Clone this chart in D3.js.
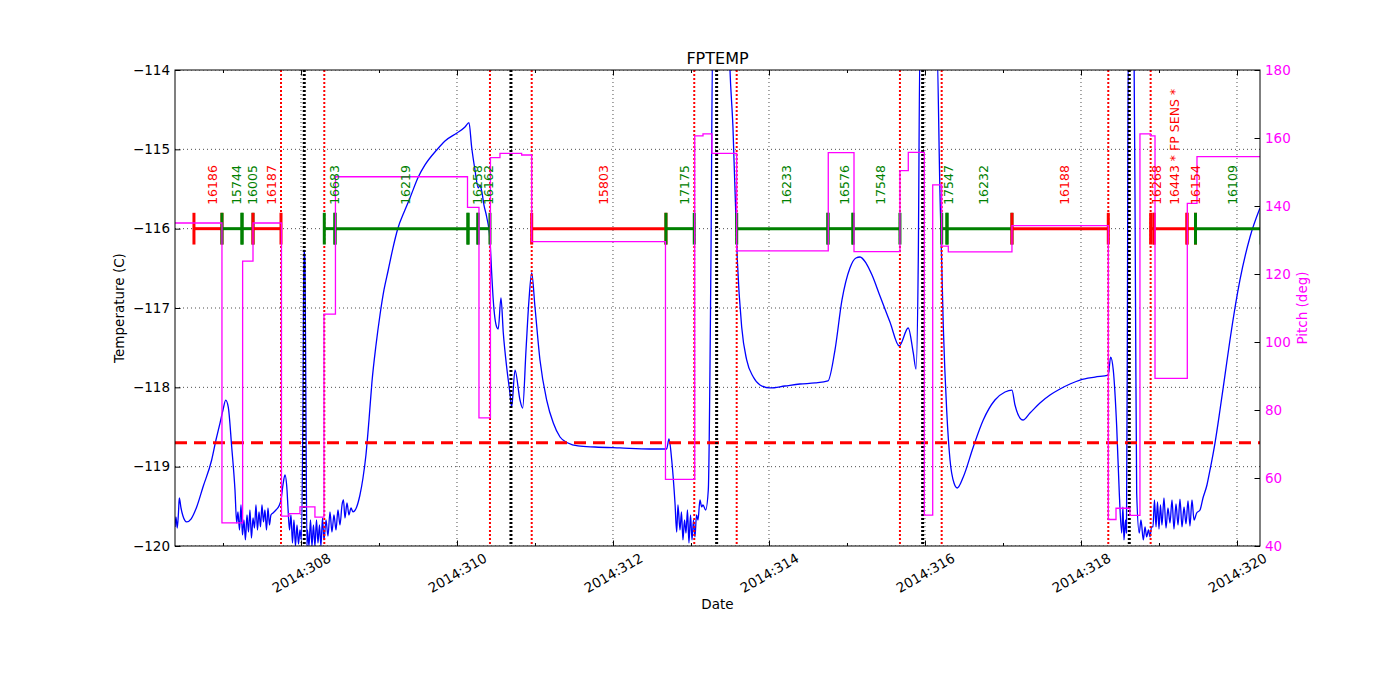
<!DOCTYPE html>
<html><head><meta charset="utf-8">
<script src="https://cdn.jsdelivr.net/npm/d3@7"></script>
<style>
body{margin:0;background:#fff;}
svg{display:block;}
text{font-family:"DejaVu Sans",sans-serif;}
</style>
</head><body>
<svg id="c" width="1400" height="700"></svg>
<script>
// ---------------- data ----------------
const chartTitle = "FPTEMP";
const xDomain = [306.385, 320.295];          // day of year 2014
const tempDomain = [-120, -114];
const pitchDomain = [40, 180];
const tempTicks = [-120, -119, -118, -117, -116, -115, -114];
const pitchTicks = [40, 60, 80, 100, 120, 140, 160, 180];
const majorDays = [308, 310, 312, 314, 316, 318, 320];
const minorDays = [307, 309, 311, 313, 315, 317, 319];
const planningLimit = -118.7;

// FP temperature [day, degC]
const fpTemp = [
[306.385,-119.760],[306.397,-119.634],[306.414,-119.773],[306.430,-119.571],[306.440,-119.395],[306.462,-119.521],[306.487,-119.622],[306.535,-119.697],[306.590,-119.660],[306.663,-119.508],[306.744,-119.256],[306.855,-118.916],[306.910,-118.664],[306.962,-118.450],[307.000,-118.286],[307.035,-118.160],[307.068,-118.248],[307.112,-118.752],[307.154,-119.294],[307.176,-119.710],
[307.192,-119.571],[307.212,-119.798],[307.231,-119.483],[307.250,-119.861],[307.269,-119.672],[307.288,-119.924],[307.308,-119.609],[307.327,-119.824],[307.346,-119.546],[307.365,-119.899],[307.385,-119.647],[307.404,-119.773],[307.423,-119.483],[307.442,-119.798],[307.462,-119.571],[307.481,-119.760],[307.500,-119.483],[307.519,-119.697],[307.538,-119.546],[307.558,-119.798],[307.577,-119.521],[307.596,-119.735],[307.615,-119.609],[307.641,-119.584],[307.679,-119.546],[307.718,-119.496],[307.744,-119.420],[307.769,-119.231],[307.795,-119.105],[307.821,-119.294],[307.833,-119.508],[307.853,-119.798],[307.872,-119.609],[307.891,-119.962],[307.910,-119.672],[307.929,-120.000],[307.949,-119.735],[307.968,-119.975],[307.987,-119.798],[308.006,-119.924],[308.026,-118.160],[308.038,-116.269],[308.051,-116.395],[308.064,-118.412],[308.077,-120.000],
[308.083,-119.798],[308.103,-120.000],[308.122,-119.672],[308.141,-120.000],[308.160,-119.735],[308.179,-120.000],[308.199,-119.672],[308.218,-119.962],[308.237,-119.735],[308.256,-120.000],[308.276,-119.647],[308.295,-119.924],[308.321,-119.672],[308.346,-119.874],[308.372,-119.571],[308.397,-119.824],[308.423,-119.609],[308.449,-119.798],[308.474,-119.546],[308.500,-119.735],[308.526,-119.483],[308.545,-119.420],[308.564,-119.647],[308.590,-119.458],[308.615,-119.609],[308.641,-119.521],[308.667,-119.571],[308.714,-119.508],[308.756,-119.357],[308.795,-119.143],[308.833,-118.853],[308.872,-118.412],[308.910,-117.933],[308.962,-117.466],[309.013,-117.088],[309.064,-116.773],[309.119,-116.521],[309.179,-116.244],[309.240,-116.004],[309.333,-115.765],[309.397,-115.613],[309.504,-115.349],[309.590,-115.197],[309.740,-115.008],[309.846,-114.895],[310.000,-114.794],[310.103,-114.718],[310.154,-114.664],
[310.188,-114.971],[310.231,-115.261],[310.273,-115.487],[310.295,-115.449],[310.317,-115.525],[310.346,-115.702],[310.381,-115.853],[310.423,-116.143],[310.445,-116.559],[310.465,-116.899],[310.509,-117.239],[310.529,-117.265],[310.564,-116.874],[310.594,-117.315],[310.637,-117.744],[310.679,-118.071],[310.701,-118.248],[310.744,-117.782],[310.808,-118.160],[310.842,-118.261],[310.885,-117.530],[310.923,-116.899],[310.958,-116.559],[311.000,-116.988],[311.064,-117.656],[311.150,-118.160],[311.235,-118.450],[311.321,-118.626],[311.423,-118.702],[311.551,-118.739],[311.769,-118.752],[312.090,-118.764],[312.474,-118.777],[312.688,-118.777],
[312.718,-118.651],[312.753,-118.916],[312.795,-119.458],[312.817,-119.824],[312.833,-119.483],[312.859,-119.798],[312.878,-119.571],[312.897,-119.924],[312.917,-119.672],[312.936,-119.836],[312.955,-119.546],[312.974,-119.962],[312.994,-119.609],[313.013,-119.924],[313.032,-119.672],[313.051,-119.886],[313.071,-119.609],[313.090,-119.672],[313.115,-119.420],[313.137,-119.508],[313.154,-119.483],[313.188,-119.546],[313.222,-119.294],[313.256,-116.395],[313.278,-113.622],
[313.487,-113.622],[313.500,-114.000],[313.538,-114.718],[313.594,-116.395],[313.650,-117.239],[313.714,-117.655],[313.799,-117.870],[313.885,-117.970],[314.013,-118.008],[314.205,-117.983],[314.397,-117.958],[314.590,-117.945],[314.756,-117.920],[314.846,-117.530],[314.936,-116.899],[315.038,-116.496],[315.115,-116.370],[315.167,-116.357],[315.244,-116.433],[315.321,-116.584],[315.423,-116.849],[315.551,-117.176],[315.670,-117.479],[315.785,-117.252],[315.850,-117.567],[315.885,-117.769],[315.914,-116.395],[315.936,-113.622],
[316.150,-113.622],[316.192,-115.550],[316.235,-117.239],[316.278,-118.286],[316.321,-118.916],[316.372,-119.206],[316.414,-119.269],[316.491,-119.130],[316.619,-118.752],[316.747,-118.412],[316.897,-118.160],[317.026,-118.059],[317.115,-118.034],[317.154,-118.223],[317.218,-118.387],[317.256,-118.412],[317.346,-118.324],[317.474,-118.197],[317.603,-118.097],[317.731,-118.021],[317.859,-117.958],[317.987,-117.908],[318.179,-117.870],[318.350,-117.845],[318.380,-117.618],[318.414,-117.782],[318.458,-118.500],[318.491,-119.332],[318.522,-119.836],[318.538,-119.508],[318.551,-119.924],[318.571,-119.672],[318.583,-119.836],[318.596,-116.899],[318.606,-113.622],
[318.679,-113.622],[318.699,-116.899],[318.714,-119.332],[318.747,-119.836],[318.769,-119.672],[318.799,-119.924],[318.821,-119.760],[318.842,-119.886],[318.865,-119.798],[318.885,-119.886],[318.904,-119.760],[318.923,-119.760],[318.942,-119.420],[318.962,-119.760],[318.981,-119.445],[319.000,-119.786],[319.019,-119.483],[319.038,-119.735],[319.064,-119.395],[319.090,-119.773],[319.115,-119.521],[319.141,-119.710],[319.167,-119.420],[319.192,-119.786],[319.218,-119.470],[319.244,-119.735],[319.269,-119.408],[319.295,-119.760],[319.321,-119.508],[319.346,-119.722],[319.372,-119.433],[319.397,-119.748],[319.423,-119.420],[319.449,-119.672],[319.483,-119.584],[319.526,-119.546],[319.564,-119.395],[319.615,-119.231],[319.654,-119.042],[319.718,-118.702],[319.782,-118.286],[319.846,-117.845],[319.910,-117.403],[320.038,-116.647],[320.167,-116.105],[320.295,-115.740]
];

// Pitch steps [day, deg]
const pitch = [
[306.385,135.0],[306.987,46.8],[307.252,123.8],[307.385,135.0],[307.750,48.8],[307.846,49.5],[307.987,51.5],[308.179,48.5],[308.295,108.2],[308.442,148.6],[310.135,139.6],[310.282,77.7],[310.429,154.2],[310.551,155.5],[310.829,155.0],[310.958,129.5],[312.673,59.6],[313.048,160.6],[313.154,161.2],[313.269,155.5],[313.586,126.8],[314.760,155.7],[315.090,126.6],[315.679,150.4],[315.786,155.8],[315.991,49.1],[316.099,146.2],[316.214,128.2],[316.299,126.5],[317.115,134.2],[318.350,47.8],[318.449,51.1],[318.628,49.0],[318.756,161.2],[318.893,160.6],[318.949,89.3],[319.363,140.8],[319.487,154.5],[320.295,154.5]
];

// Observations
const obsStart = [306.628,306.987,307.244,307.385,308.299,308.436,310.141,310.269,310.958,312.679,313.586,314.756,315.077,316.214,316.282,317.115,318.893,318.936,319.359,319.468];
const obsEnd   = [306.987,307.244,307.385,307.744,308.436,310.141,310.269,310.423,312.679,313.042,314.756,315.077,315.679,316.282,317.115,318.350,318.936,319.359,319.468,320.310];
const obsLabel = ["16186","15744","16005","16187","16683","16219","16258","16162","15803","17175","16233","16576","17548","17547","16232","16188","16268","16443 * FP SENS *","16154","16109"];
const obsFlag  = ["hot","ok","ok","hot","ok","ok","ok","ok","hot","ok","ok","ok","ok","ok","ok","hot","hot","hot","hot","ok"];
const obsLevel = -116.0;

// Event times
const radzoneTimes = [307.744,308.299,310.423,310.958,313.042,313.586,315.679,316.214,318.350,318.893];
const perigeeTimes = [308.042,310.692,313.329,315.970,318.619];

// ---------------- drawing ----------------
const svg = d3.select('#c');
const L = 175, R = 1260, T = 70, B = 546;
const x = d3.scaleLinear().domain(xDomain).range([L, R]);
const yT = d3.scaleLinear().domain(tempDomain).range([B, T]);
const yP = d3.scaleLinear().domain(pitchDomain).range([B, T]);
const flagColor = d3.scaleOrdinal().domain(["hot","ok"]).range(["#ff0000","#008000"]);
const MAG = "#ff00ff";

svg.append('rect').attr('width',1400).attr('height',700).attr('fill','#fff');
svg.append('defs').append('clipPath').attr('id','clip')
  .append('rect').attr('x',L).attr('y',T).attr('width',R-L).attr('height',B-T);

const plot = svg.append('g').attr('clip-path','url(#clip)');

// grid
plot.selectAll('.vg').data(majorDays).join('line')
  .attr('x1',d=>x(d)).attr('x2',d=>x(d)).attr('y1',T).attr('y2',B)
  .attr('stroke','#000').attr('stroke-width',0.7).attr('stroke-dasharray','1,3');
plot.selectAll('.hg').data(tempTicks).join('line')
  .attr('x1',L).attr('x2',R).attr('y1',d=>yT(d)).attr('y2',d=>yT(d))
  .attr('stroke','#000').attr('stroke-width',0.7).attr('stroke-dasharray','1,3');

// temperature
plot.append('path').datum(fpTemp)
  .attr('d', d3.line().curve(d3.curveMonotoneX).x(d=>x(d[0])).y(d=>yT(d[1])))
  .attr('fill','none').attr('stroke','#0000ff').attr('stroke-width',1.3).attr('stroke-linejoin','round');

// planning limit
plot.append('line').attr('x1',L).attr('x2',R).attr('y1',yT(planningLimit)).attr('y2',yT(planningLimit))
  .attr('stroke','#ff0000').attr('stroke-width',3).attr('stroke-dasharray','12,7');

// event lines
plot.selectAll('.rz').data(radzoneTimes).join('line')
  .attr('x1',d=>x(d)).attr('x2',d=>x(d)).attr('y1',T).attr('y2',B)
  .attr('stroke','#ff0000').attr('stroke-width',2).attr('stroke-dasharray','2,2');
plot.selectAll('.pg').data(perigeeTimes).join('line')
  .attr('x1',d=>x(d)).attr('x2',d=>x(d)).attr('y1',T).attr('y2',B)
  .attr('stroke','#000').attr('stroke-width',3).attr('stroke-dasharray','2,2');

// observation bars
const obs = obsStart.map((s,i)=>({s, e:obsEnd[i], label:obsLabel[i], flag:obsFlag[i]}));
const og = plot.append('g');
obs.forEach(o=>{
  const c = flagColor(o.flag);
  og.append('line').attr('x1',x(o.s)).attr('x2',x(o.e)).attr('y1',yT(obsLevel)).attr('y2',yT(obsLevel))
    .attr('stroke',c).attr('stroke-width',3);
  [o.s,o.e].forEach(t=>{
    og.append('line').attr('x1',x(t)).attr('x2',x(t)).attr('y1',yT(obsLevel+0.2)).attr('y2',yT(obsLevel-0.2))
      .attr('stroke',c).attr('stroke-width',3);
  });
});
svg.append('g').selectAll('text').data(obs).join('text')
  .attr('transform',o=>`translate(${x((o.s+o.e)/2)+9},${yT(obsLevel+0.3)}) rotate(-90)`)
  .attr('font-size','12.5px').attr('fill',o=>flagColor(o.flag))
  .text(o=>o.label);

// pitch
plot.append('path').datum(pitch)
  .attr('d', d3.line().curve(d3.curveStepAfter).x(d=>x(d[0])).y(d=>yP(d[1])))
  .attr('fill','none').attr('stroke',MAG).attr('stroke-width',1.3);

// frame
svg.append('rect').attr('x',L).attr('y',T).attr('width',R-L).attr('height',B-T)
  .attr('fill','none').attr('stroke','#000').attr('stroke-width',1);

// axes
const fmtDay = d => "2014:" + d;
const xAx = svg.append('g').attr('transform',`translate(0,${B})`)
  .call(d3.axisBottom(x).tickValues(majorDays).tickSize(-5.5).tickFormat(fmtDay));
xAx.select('.domain').remove();
xAx.selectAll('text').attr('y',0).attr('dy','0.35em').attr('text-anchor','middle')
  .attr('transform','translate(0,27) rotate(-30)');
const xMin = svg.append('g').attr('transform',`translate(0,${B})`)
  .call(d3.axisBottom(x).tickValues(minorDays).tickSize(-3).tickFormat(''));
xMin.select('.domain').remove();
const xTop = svg.append('g').attr('transform',`translate(0,${T})`)
  .call(d3.axisTop(x).tickValues(majorDays).tickSize(-5.5).tickFormat(''));
xTop.select('.domain').remove();
const xTopMin = svg.append('g').attr('transform',`translate(0,${T})`)
  .call(d3.axisTop(x).tickValues(minorDays).tickSize(-3).tickFormat(''));
xTopMin.select('.domain').remove();

const yAx = svg.append('g').attr('transform',`translate(${L},0)`)
  .call(d3.axisLeft(yT).tickValues(tempTicks).tickSize(-5.5).tickPadding(5).tickFormat(d3.format('d')));
yAx.select('.domain').remove();
const pAx = svg.append('g').attr('transform',`translate(${R},0)`)
  .call(d3.axisRight(yP).tickValues(pitchTicks).tickSize(-5.5).tickPadding(5).tickFormat(d3.format('d')));
pAx.select('.domain').remove();
pAx.selectAll('text').attr('fill',MAG);

svg.selectAll('.tick text').attr('font-family','"DejaVu Sans",sans-serif').attr('font-size','13.5px');
[xAx,xMin,xTop,xTopMin,yAx,pAx].forEach(a=>a.attr('font-family',null).attr('font-size',null));
svg.selectAll('.tick line').attr('stroke','#000');

// titles
svg.append('text').attr('x',(L+R)/2).attr('y',64).attr('text-anchor','middle')
  .attr('font-size','16px').text(chartTitle);
svg.append('text').attr('x',(L+R)/2).attr('y',609).attr('text-anchor','middle')
  .attr('font-size','13.5px').text('Date');
svg.append('text').attr('transform',`translate(124,${(T+B)/2}) rotate(-90)`).attr('text-anchor','middle')
  .attr('font-size','13.5px').text('Temperature (C)');
svg.append('text').attr('transform',`translate(1307,${(T+B)/2}) rotate(-90)`).attr('text-anchor','middle')
  .attr('font-size','13.5px').attr('fill',MAG).text('Pitch (deg)');
</script>
</body></html>
